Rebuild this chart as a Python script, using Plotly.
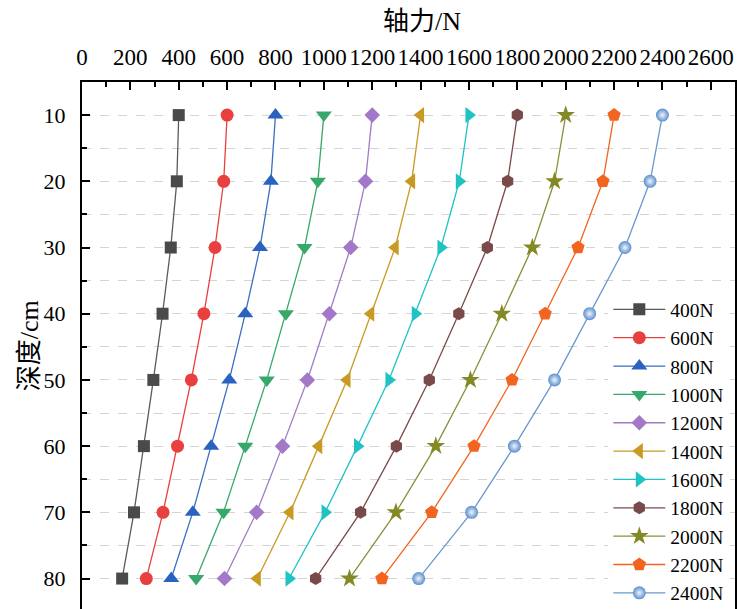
import plotly.graph_objects as go

# Depth of each measuring point (cm)
depth = [10, 20, 30, 40, 50, 60, 70, 80]

# Axial force profiles (N) for each applied load
load_labels = ["400N", "600N", "800N", "1000N", "1200N", "1400N",
               "1600N", "1800N", "2000N", "2200N", "2400N"]
f400 = [400, 392, 367, 333, 295, 256, 215, 166]
f600 = [600, 586, 550, 504, 452, 395, 335, 266]
f800 = [800, 781, 736, 675, 609, 534, 458, 369]
f1000 = [1000, 975, 920, 843, 764, 675, 585, 472]
f1200 = [1200, 1172, 1111, 1023, 932, 829, 722, 589]
f1400 = [1400, 1363, 1295, 1194, 1096, 979, 860, 725]
f1600 = [1600, 1560, 1484, 1378, 1269, 1139, 1005, 856]
f1800 = [1800, 1760, 1676, 1558, 1436, 1300, 1152, 966]
f2000 = [2000, 1954, 1862, 1736, 1606, 1463, 1298, 1106]
f2200 = [2200, 2154, 2051, 1915, 1778, 1621, 1446, 1240]
f2400 = [2400, 2349, 2245, 2099, 1954, 1788, 1611, 1392]

x_ticks = list(range(0, 2601, 200))
y_ticks = list(range(10, 81, 10))

series = [f400, f600, f800, f1000, f1200, f1400, f1600, f1800, f2000, f2200, f2400]

styles = [
    dict(color="#4a4a4a", line="#5a5a5a", symbol="square", size=12),
    dict(color="#e8403f", line="#e8403f", symbol="circle", size=13),
    dict(color="#2a62c0", line="#3a6fc4", symbol="triangle-up", size=14),
    dict(color="#36a96a", line="#36a96a", symbol="triangle-down", size=14),
    dict(color="#a478c8", line="#a07cc4", symbol="diamond", size=12),
    dict(color="#c99a22", line="#c99a22", symbol="triangle-left", size=14),
    dict(color="#20c3c3", line="#20c3c3", symbol="triangle-right", size=14),
    dict(color="#7a4a4a", line="#7a4a4a", symbol="hexagon", size=13),
    dict(color="#838a25", line="#8a8f3a", symbol="star", size=14),
    dict(color="#f26520", line="#f26520", symbol="pentagon", size=14),
    dict(color="#5b8fcc", line="#6a98cc", symbol="circle", size=13),
]

FONT = "Liberation Serif, Times New Roman, Noto Sans CJK SC, serif"

fig = go.Figure()
for name, vals, st in zip(load_labels, series, styles):
    marker = dict(symbol=st["symbol"], size=st["size"], color=st["color"],
                  line=dict(width=0))
    if name == "2400N":
        marker["gradient"] = dict(type="radial", color="#eef4fb")
    fig.add_trace(go.Scatter(
        x=vals, y=depth, mode="lines+markers", name=name,
        line=dict(color=st["line"], width=1.3),
        marker=marker,
    ))

fig.update_layout(
    width=738, height=609,
    margin=dict(l=82, r=3, t=82, b=0, autoexpand=False),
    paper_bgcolor="white", plot_bgcolor="white",
    font=dict(family=FONT, size=22, color="black"),
    showlegend=True,
    legend=dict(
        x=0.806, y=0.605, xanchor="left", yanchor="top",
        bgcolor="white", borderwidth=0,
        font=dict(family=FONT, size=19.5, color="black"),
        itemwidth=52, tracegroupgap=0,
    ),
    annotations=[
        dict(text="轴力/N", xref="paper", yref="paper", x=0.52, y=1.114,
             xanchor="center", yanchor="middle", showarrow=False,
             font=dict(family=FONT, size=26, color="black")),
        dict(text="深度/cm", xref="paper", yref="paper", x=-0.08, y=0.5,
             xanchor="center", yanchor="middle", showarrow=False, textangle=-90,
             font=dict(family=FONT, size=26, color="black")),
    ],
)

fig.update_xaxes(
    side="top", range=[0, 2700], tickmode="array", tickvals=x_ticks,
    ticks="inside", ticklen=8, tickwidth=1.5, tickcolor="black",
    showline=True, linewidth=2, linecolor="black", mirror=False,
    showgrid=False, zeroline=False, ticklabelstandoff=6,
    minor=dict(dtick=100, tick0=0, ticks="inside", ticklen=5, tickwidth=1.5,
               tickcolor="black", showgrid=False),
    tickfont=dict(family=FONT, size=23),
)

fig.update_yaxes(
    range=[84.6, 5], tickmode="array", tickvals=y_ticks,
    ticks="inside", ticklen=8, tickwidth=1.5, tickcolor="black",
    showline=True, linewidth=2, linecolor="black", mirror=True,
    showgrid=True, gridcolor="#d4d4d4", griddash="dash", gridwidth=1,
    zeroline=False, ticklabelstandoff=10,
    minor=dict(dtick=5, tick0=0, ticks="inside", ticklen=5, tickwidth=1.5,
               tickcolor="black", showgrid=True, gridcolor="#d4d4d4",
               griddash="dash", gridwidth=1),
    tickfont=dict(family=FONT, size=22),
)

fig.write_html("out.html")
